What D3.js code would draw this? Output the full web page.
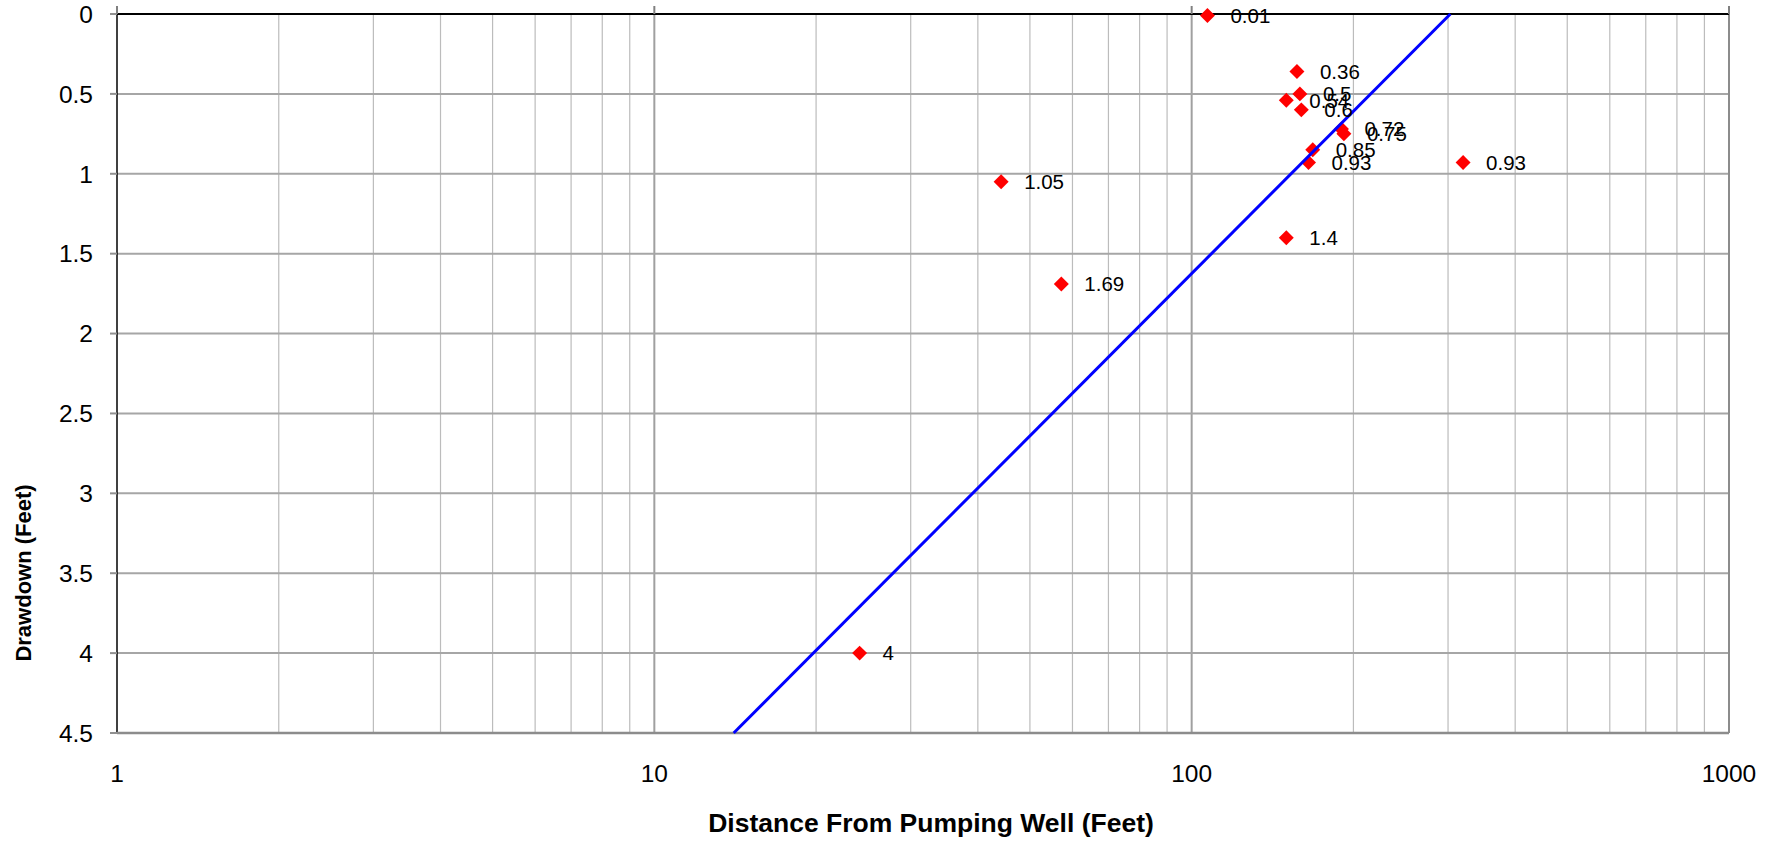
<!DOCTYPE html>
<html>
<head>
  <title>Drawdown vs Distance</title>
  <script src="https://d3js.org/d3.v7.min.js"></script>
  <style>
    body { margin: 0; background: #fff; }
    text { font-family: "Liberation Sans", Arial, sans-serif; }
  </style>
</head>
<body>
  <div id="chart"></div>

  <script>
    // observation wells: distance (ft) and drawdown (ft)
    var distances = [107, 157, 159, 150, 160, 190, 192, 168, 165, 320, 44.2, 150, 57.2, 24.1];
    var drawdowns = [0.01, 0.36, 0.5, 0.54, 0.6, 0.72, 0.75, 0.85, 0.93, 0.93, 1.05, 1.4, 1.69, 4];
    // fitted straight line, end points
    var fitDistance = [14.05, 303];
    var fitDrawdown = [4.5, 0];
    var xTicks = [1, 10, 100, 1000];
    var yTicks = [0, 0.5, 1, 1.5, 2, 2.5, 3, 3.5, 4, 4.5];

    var margin = {top: 14, right: 50, bottom: 109, left: 117},
        width = 1779 - margin.left - margin.right,
        height = 842 - margin.top - margin.bottom;

    var svg = d3.select("#chart").append("svg")
      .attr("width", 1779)
      .attr("height", 842)
      .append("g")
      .attr("transform", "translate(" + margin.left + "," + margin.top + ")");

    var x = d3.scaleLog().domain([1, 1000]).range([0, width]);
    var y = d3.scaleLinear().domain([0, 4.5]).range([0, height]);

    // minor vertical gridlines
    var minor = [];
    [1, 10, 100].forEach(function(d) {
      for (var k = 2; k <= 9; k++) minor.push(d * k);
    });
    svg.selectAll(".vminor").data(minor).enter().append("line")
      .attr("x1", function(d) { return x(d); })
      .attr("x2", function(d) { return x(d); })
      .attr("y1", 0).attr("y2", height)
      .attr("stroke", "#bcbcbc").attr("stroke-width", 1.2);

    svg.selectAll(".vmajor").data([10, 100]).enter().append("line")
      .attr("x1", function(d) { return x(d); })
      .attr("x2", function(d) { return x(d); })
      .attr("y1", 0).attr("y2", height)
      .attr("stroke", "#a0a0a0").attr("stroke-width", 2);

    // horizontal gridlines
    svg.selectAll(".hgrid").data(yTicks.slice(1)).enter().append("line")
      .attr("x1", 0).attr("x2", width)
      .attr("y1", function(d) { return y(d); })
      .attr("y2", function(d) { return y(d); })
      .attr("stroke", "#a6a6a6").attr("stroke-width", 2);

    // right border
    svg.append("line")
      .attr("x1", width).attr("x2", width)
      .attr("y1", 0).attr("y2", height)
      .attr("stroke", "#8c8c8c").attr("stroke-width", 2);

    // y axis (left, black) with ticks outside
    svg.append("line")
      .attr("x1", 0).attr("x2", 0)
      .attr("y1", -8).attr("y2", height)
      .attr("stroke", "#000").attr("stroke-width", 1.5);
    svg.selectAll(".ytick").data(yTicks).enter().append("line")
      .attr("x1", -7).attr("x2", 0)
      .attr("y1", function(d) { return y(d); })
      .attr("y2", function(d) { return y(d); })
      .attr("stroke", "#909090").attr("stroke-width", 2);
    svg.selectAll(".ylab").data(yTicks).enter().append("text")
      .attr("x", -24)
      .attr("y", function(d) { return y(d); })
      .attr("dy", "0.36em")
      .attr("text-anchor", "end")
      .attr("font-size", 24.5)
      .text(function(d) { return d; });

    // x axis sits at drawdown 0 (top), labels low
    svg.append("line")
      .attr("x1", 0).attr("x2", width)
      .attr("y1", y(0)).attr("y2", y(0))
      .attr("stroke", "#000").attr("stroke-width", 2);
    svg.selectAll(".xtick").data(xTicks).enter().append("line")
      .attr("x1", function(d) { return x(d); })
      .attr("x2", function(d) { return x(d); })
      .attr("y1", -8).attr("y2", 0)
      .attr("stroke", "#808080").attr("stroke-width", 2);
    svg.selectAll(".xlab").data(xTicks).enter().append("text")
      .attr("x", function(d) { return x(d); })
      .attr("y", height + 49)
      .attr("text-anchor", "middle")
      .attr("font-size", 24.5)
      .text(function(d) { return d; });

    // bottom border
    svg.append("line")
      .attr("x1", 0).attr("x2", width)
      .attr("y1", height).attr("y2", height)
      .attr("stroke", "#8c8c8c").attr("stroke-width", 2.5);

    var points = distances.map(function(d, i) { return {x: d, y: drawdowns[i]}; });

    // markers
    svg.selectAll(".pt").data(points).enter().append("path")
      .attr("d", d3.symbol().type(d3.symbolSquare).size(112))
      .attr("transform", function(d) { return "translate(" + x(d.x) + "," + y(d.y) + ") rotate(45)"; })
      .attr("fill", "#ff0000");

    // fitted line
    var fit = fitDistance.map(function(d, i) { return {x: d, y: fitDrawdown[i]}; });
    svg.append("path")
      .datum(fit)
      .attr("d", d3.line().x(function(d) { return x(d.x); }).y(function(d) { return y(d.y); }))
      .attr("fill", "none")
      .attr("stroke", "#0000ff")
      .attr("stroke-width", 3);

    // data labels
    svg.selectAll(".lab").data(points).enter().append("text")
      .attr("x", function(d) { return x(d.x) + 23; })
      .attr("y", function(d) { return y(d.y); })
      .attr("dy", "0.36em")
      .attr("font-size", 20.5)
      .text(function(d) { return d.y; });

    // axis titles
    svg.append("text")
      .attr("x", 814)
      .attr("y", height + 99)
      .attr("text-anchor", "middle")
      .attr("font-size", 26.5)
      .attr("font-weight", "bold")
      .text("Distance From Pumping Well (Feet)");

    svg.append("text")
      .attr("transform", "rotate(-90)")
      .attr("x", -(573 - margin.top))
      .attr("y", -margin.left + 31)
      .attr("text-anchor", "middle")
      .attr("font-size", 22)
      .attr("font-weight", "bold")
      .text("Drawdown (Feet)");
  </script>
</body>
</html>
